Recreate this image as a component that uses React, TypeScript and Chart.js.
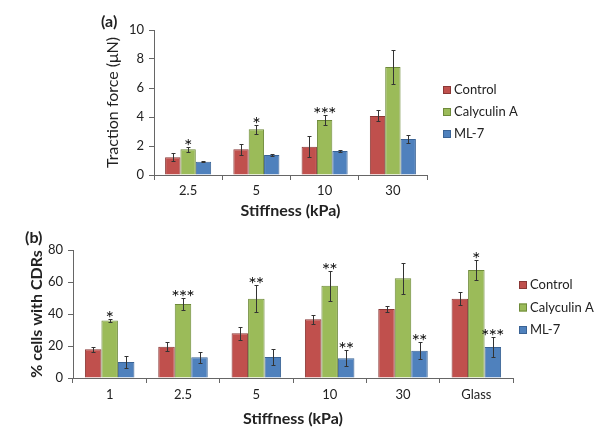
import React, { useEffect, useRef } from 'react';
import { Chart, registerables } from 'chart.js';
Chart.register(...registerables);

const seriesNames = ['Control', 'Calyculin A', 'ML-7'];
const fillColors = ['#C0504D', '#9BBB59', '#4F81BD'];
const borderColors = ['#8A3836', '#6E8A3A', '#3A6395'];

// Panel (a): traction force (µN)
const stiffnessA = ['2.5', '5', '10', '30'];
const controlA = [1.22, 1.77, 1.95, 4.07];
const calyculinA_A = [1.77, 3.15, 3.79, 7.45];
const ml7A = [0.92, 1.38, 1.65, 2.48];
const controlAErr = [0.28, 0.38, 0.73, 0.38];
const calyculinA_AErr = [0.18, 0.3, 0.37, 1.17];
const ml7AErr = [0.05, 0.1, 0.07, 0.28];
const controlASig = ['', '', '', ''];
const calyculinA_ASig = ['*', '*', '***', ''];
const ml7ASig = ['', '', '', ''];
const yTicksA = { min: 0, max: 10, step: 2 };

// Panel (b): % cells with CDRs
const stiffnessB = ['1', '2.5', '5', '10', '30', 'Glass'];
const controlB = [17.9, 19.6, 27.9, 36.7, 43.1, 49.6];
const calyculinA_B = [36.0, 46.2, 49.6, 57.7, 62.3, 67.5];
const ml7B = [10.0, 12.9, 13.1, 12.3, 17.1, 19.4];
const controlBErr = [1.7, 2.9, 4.0, 2.9, 1.7, 4.0];
const calyculinA_BErr = [1.0, 4.0, 8.5, 9.4, 9.7, 6.0];
const ml7BErr = [3.7, 3.3, 4.8, 5.0, 5.2, 6.0];
const controlBSig = ['', '', '', '', '', ''];
const calyculinA_BSig = ['*', '***', '**', '**', '', '*'];
const ml7BSig = ['', '', '', '**', '**', '***'];
const yTicksB = { min: 0, max: 80, step: 20 };

const FONT = 'Lato, "Open Sans", sans-serif';
const TEXT = '#222';
const AXIS = '#666';

const overlayPlugin = {
  id: 'overlay',
  afterDatasetsDraw(chart: any) {
    const ctx = chart.ctx;
    const yScale = chart.scales.y;
    ctx.save();
    chart.data.datasets.forEach((ds: any, i: number) => {
      const meta = chart.getDatasetMeta(i);
      meta.data.forEach((bar: any, j: number) => {
        const v = ds.data[j];
        const e = ds.errors[j];
        const yt = Math.round(yScale.getPixelForValue(v + e)) + 0.5;
        const yb = Math.round(yScale.getPixelForValue(v - e)) + 0.5;
        const x = Math.round(bar.x) + 0.5;
        ctx.strokeStyle = '#333';
        ctx.lineWidth = 1;
        ctx.beginPath();
        ctx.moveTo(x, yt);
        ctx.lineTo(x, yb);
        ctx.moveTo(x - 2, yt);
        ctx.lineTo(x + 2, yt);
        ctx.moveTo(x - 2, yb);
        ctx.lineTo(x + 2, yb);
        ctx.stroke();
        const s: string = ds.sig[j];
        if (s) {
          ctx.fillStyle = '#111';
          ctx.font = `20px ${FONT}`;
          ctx.textAlign = 'center';
          ctx.textBaseline = 'alphabetic';
          const n = s.length;
          for (let k = 0; k < n; k++) {
            ctx.fillText('*', bar.x + (k - (n - 1) / 2) * 7.5, yt + 5);
          }
        }
      });
    });
    ctx.restore();
  },
  afterDraw(chart: any) {
    const o = chart.options.plugins.overlay;
    const ctx = chart.ctx;
    ctx.save();
    chart.data.datasets.forEach((ds: any, i: number) => {
      const cy = o.legendY + i * o.legendDy;
      ctx.fillStyle = ds.backgroundColor;
      ctx.fillRect(o.legendX, cy - 4, 8, 8);
      ctx.strokeStyle = ds.borderColor;
      ctx.lineWidth = 1;
      ctx.strokeRect(o.legendX + 0.5, cy - 3.5, 7, 7);
      ctx.fillStyle = TEXT;
      ctx.font = `13px ${FONT}`;
      ctx.textAlign = 'left';
      ctx.textBaseline = 'middle';
      ctx.fillText(ds.label, o.legendX + 11, cy);
    });
    ctx.font = `bold 16px ${FONT}`;
    ctx.textAlign = 'left';
    ctx.textBaseline = 'middle';
    ctx.fillStyle = TEXT;
    ctx.fillText(o.panel, o.panelX, o.panelY);
    ctx.restore();
  },
};

function buildConfig(p: any) {
  const series = [p.control, p.caly, p.ml7];
  const errs = [p.controlErr, p.calyErr, p.ml7Err];
  const sigs = [p.controlSig, p.calySig, p.ml7Sig];
  return {
    type: 'bar' as const,
    data: {
      labels: p.labels,
      datasets: series.map((d: number[], i: number) => ({
        label: seriesNames[i],
        data: d,
        errors: errs[i],
        sig: sigs[i],
        backgroundColor: fillColors[i],
        borderColor: borderColors[i],
        borderWidth: 1,
        categoryPercentage: 0.675,
        barPercentage: 1,
      })),
    },
    options: {
      responsive: false,
      animation: false as const,
      devicePixelRatio: 1,
      layout: { padding: p.padding },
      plugins: {
        legend: { display: false },
        tooltip: { enabled: false },
        overlay: p.overlay,
      },
      scales: {
        x: {
          grid: { display: true, drawOnChartArea: false, drawTicks: true, tickLength: 5, color: AXIS, offset: true },
          border: { display: true, color: AXIS },
          ticks: { padding: p.xTickPad, color: TEXT, font: { family: FONT, size: 13 } },
          title: {
            display: true,
            text: 'Stiffness (kPa)',
            color: TEXT,
            font: { family: FONT, size: 16, weight: 'bold' },
            padding: { top: 0, bottom: p.xTitlePad },
          },
          afterFit: (s: any) => { s.height = p.xHeight; },
        },
        y: {
          min: p.yTicks.min,
          max: p.yTicks.max,
          grid: { display: true, drawOnChartArea: false, drawTicks: true, tickLength: 5, color: AXIS },
          border: { display: true, color: AXIS },
          ticks: { stepSize: p.yTicks.step, padding: 5, color: TEXT, font: { family: FONT, size: 13 } },
          title: {
            display: true,
            text: p.yTitle,
            color: TEXT,
            font: { family: FONT, size: 16, weight: p.yTitleWeight },
            padding: { top: p.yTitlePad, bottom: 0 },
          },
          afterFit: (s: any) => { s.width = 60; },
        },
      },
    },
    plugins: [overlayPlugin],
  };
}

const configA = {
  labels: stiffnessA,
  control: controlA, caly: calyculinA_A, ml7: ml7A,
  controlErr: controlAErr, calyErr: calyculinA_AErr, ml7Err: ml7AErr,
  controlSig: controlASig, calySig: calyculinA_ASig, ml7Sig: ml7ASig,
  yTicks: yTicksA,
  yTitle: 'Traction force (μN)',
  yTitleWeight: 'normal',
  yTitlePad: 9.4,
  xTickPad: 3,
  xTitlePad: 0,
  xHeight: 45,
  padding: { left: 94, right: 174, top: 30, bottom: 0 },
  overlay: { legendX: 443, legendY: 90, legendDy: 22, panel: '(a)', panelX: 101, panelY: 22 },
};

const configB = {
  labels: stiffnessB,
  control: controlB, caly: calyculinA_B, ml7: ml7B,
  controlErr: controlBErr, calyErr: calyculinA_BErr, ml7Err: ml7BErr,
  controlSig: controlBSig, calySig: calyculinA_BSig, ml7Sig: ml7BSig,
  yTicks: yTicksB,
  yTitle: '% cells with CDRs',
  yTitleWeight: 'bold',
  yTitlePad: 13.9,
  xTickPad: 4,
  xTitlePad: 6.4,
  xHeight: 57,
  padding: { left: 13, right: 88, top: 30, bottom: 0 },
  overlay: { legendX: 519, legendY: 65, legendDy: 22.5, panel: '(b)', panelX: 25, panelY: 18 },
};

function Panel({ cfg, height }: { cfg: any; height: number }) {
  const ref = useRef<HTMLCanvasElement | null>(null);
  useEffect(() => {
    if (!ref.current) return;
    const chart = new Chart(ref.current, buildConfig(cfg) as any);
    return () => chart.destroy();
  }, [cfg]);
  return <canvas ref={ref} width={601} height={height} style={{ display: 'block', width: 601, height }} />;
}

export default function App() {
  return (
    <div style={{ position: 'fixed', left: 0, top: 0, width: 601, height: 435, background: '#fff' }}>
      <Panel cfg={configA} height={220} />
      <Panel cfg={configB} height={215} />
    </div>
  );
}
